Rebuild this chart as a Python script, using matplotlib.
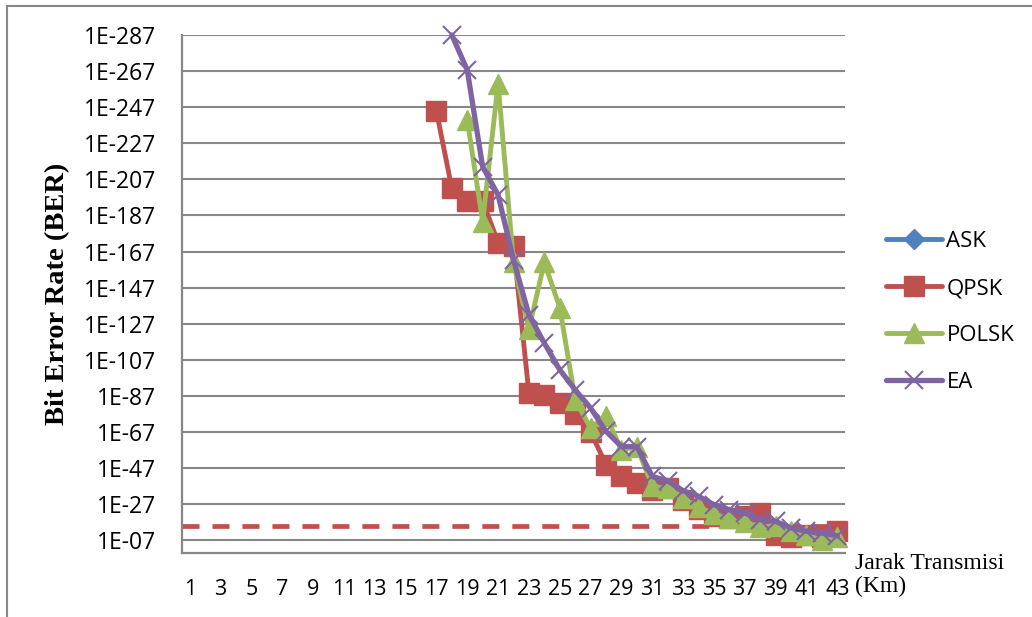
import numpy as np
import matplotlib
matplotlib.use("Agg")
import matplotlib.pyplot as plt
import matplotlib.patches as mpatches

# ── data (BER = 1E-n, values stored as exponent n) ───────────────────────────
jarak = list(range(1, 44))
nan = np.nan

ask = [nan] * 43
qpsk = [nan] * 16 + [245, 202, 195, 195, 172, 170, 88.6, 87.7, 83, 77, 67,
                     49, 42.4, 38.8, 35, 36, 29.5, 24.4, 20.3, 19.4, 20.3,
                     22, 10, 9, 10, 9, 12]
polsk = [nan] * 18 + [240, 183.5, 260, 161, 124, 161, 136, 85, 69, 76, 57,
                      59, 37, 36, 30.6, 25.7, 21.4, 19.6, 17.4, 14.6, 15, 12,
                      10, 7, 9]
ea = [nan] * 17 + [287, 267.6, 214, 198.4, 162.4, 132, 116.3, 101.5, 90.4,
                   80.3, 67.4, 59, 59, 42.4, 40, 34.5, 31.4, 26.8, 24, 22.2,
                   18.5, 17.5, 13.9, 12, 11.1, 9.5]
batas = 15  # garis batas BER (putus-putus)

yticks = list(range(7, 288, 20))
ytick_labels = [f"1E-{n:02d}" for n in yticks]
xtick_labels = [str(j) for j in jarak[::2]]

# ── plot ─────────────────────────────────────────────────────────────────────
W, H = 1032, 617
fig = plt.figure(figsize=(W / 100, H / 100), dpi=100)
ax = fig.add_axes([182 / W, 1 - 553 / H, (845 - 182) / W, (553 - 35) / H])

grey = '#878787'
tick_font = dict(family='Open Sans', size=16.5)

ax.plot(jarak, ask, color='#4F81BD', lw=3.5, marker='D', ms=10,
        solid_capstyle='round', label='ASK', zorder=3, clip_on=False)
ax.plot(jarak, qpsk, color='#C0504D', lw=3.5, marker='s', ms=14,
        solid_capstyle='round', label='QPSK', zorder=3, clip_on=False)
ax.plot(jarak, polsk, color='#9BBB59', lw=3.5, marker='^', ms=15,
        solid_capstyle='round', label='POLSK', zorder=4, clip_on=False)
ax.plot(jarak, ea, color='#8064A2', lw=3.8, marker='x', ms=13, mew=1.5,
        solid_capstyle='round', label='EA', zorder=5, clip_on=False)

ax.axhline(batas, color='#C0504D', lw=3.4, dashes=(3.6, 2.75), zorder=2)

ax.set_xlim(0.5, 43.5)
ax.set_ylim(0, 287)
ax.set_yticks(yticks)
ax.set_yticklabels(ytick_labels, fontdict=tick_font)
ax.set_xticks(jarak[::2])
ax.set_xticklabels(xtick_labels, fontfamily='Open Sans', fontsize=15.5)
ax.tick_params(axis='y', length=0, pad=18.5)
ax.tick_params(axis='x', length=0, pad=19)

ax.grid(axis='y', color=grey, lw=1.5, zorder=0)
for s in ['top', 'right']:
    ax.spines[s].set_visible(False)
for s in ['left', 'bottom']:
    ax.spines[s].set_color(grey)
    ax.spines[s].set_linewidth(1.6)

fig.text(58 / W, 1 - 294 / H, "Bit Error Rate (BER)", rotation=90,
         ha='center', va='center', family='Liberation Serif',
         fontweight='bold', fontsize=20.5)
fig.text(855 / W, 1 - 575 / H, "Jarak Transmisi\n(Km)", ha='left',
         va='center', family='Liberation Serif', fontsize=17, linespacing=1.1)

leg = fig.legend(loc='upper left', bbox_to_anchor=(886 / W, 1 - 231 / H),
                 frameon=False, prop=dict(family='Open Sans', size=16),
                 handlelength=2.5, handletextpad=0.22, labelspacing=1.17,
                 borderpad=0, borderaxespad=0)

# bingkai grafik
fig.add_artist(mpatches.Rectangle((7 / W, -0.5), 2, 0.5 + 1 - 6 / H,
                                  transform=fig.transFigure, fill=False,
                                  edgecolor=grey, lw=1.5))

fig.savefig("out.png", dpi=100)
